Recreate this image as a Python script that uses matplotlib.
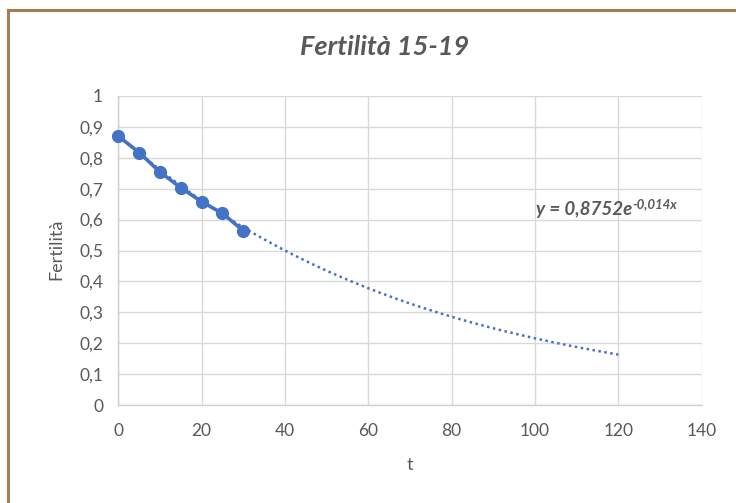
import numpy as np
import matplotlib
matplotlib.use("Agg")
import matplotlib.pyplot as plt
from matplotlib.lines import Line2D

# ---- data ----
t_values = [0, 5, 10, 15, 20, 25, 30]
fertility = [0.870, 0.817, 0.754, 0.703, 0.658, 0.620, 0.564]
trend_a = 0.8752      # coefficient from the displayed trendline equation
trend_b = -0.014      # exponent from the displayed trendline equation
trend_range = (0, 120)
x_ticks = [0, 20, 40, 60, 80, 100, 120, 140]
y_ticks = [0, 0.1, 0.2, 0.3, 0.4, 0.5, 0.6, 0.7, 0.8, 0.9, 1]
title = "Fertilità 15-19"
xlabel = "t"
ylabel = "Fertilità"

plt.rcParams['font.family'] = ['Lato', 'DejaVu Sans']
W, H = 736, 503
fig = plt.figure(figsize=(W / 100, H / 100), dpi=100)
fig.patch.set_facecolor('white')

ax = fig.add_axes([118.3 / W, 1 - 405 / H, (701.7 - 118.3) / W, (405 - 96) / H])
ax.set_xlim(0, 140)
ax.set_ylim(0, 1)

grey = '#595959'
grid = '#d9d9d9'
blue = '#4472C4'

ax.set_xticks(x_ticks)
ax.set_yticks(y_ticks)
ax.set_xticklabels([str(v) for v in x_ticks])
ax.set_yticklabels([('%g' % v).replace('.', ',') for v in y_ticks])
ax.tick_params(length=0, labelsize=12.5, colors=grey)
ax.tick_params(axis='y', pad=11)
ax.tick_params(axis='x', pad=13)
ax.grid(True, color=grid, linewidth=1.0)
ax.set_axisbelow(True)
for s in ['top', 'right']:
    ax.spines[s].set_visible(False)
for s in ['left', 'bottom']:
    ax.spines[s].set_color('#d0d0d0')
    ax.spines[s].set_linewidth(1.0)

# trendline
xt = np.linspace(trend_range[0], trend_range[1], 200)
yt = trend_a * np.exp(trend_b * xt)
ax.plot(xt, yt, color=blue, linewidth=1.8, linestyle=(0, (1, 1.4)), zorder=2)

# data
ax.plot(t_values, fertility, color=blue, linewidth=2.6, marker='o',
        markersize=8.5, zorder=3, clip_on=False)

# labels
fig.text(385 / W, 1 - 47 / H, title, ha='center', va='center', fontsize=19.5,
         fontstyle='italic', fontweight='bold', color=grey)
fig.text(410 / W, 1 - 465 / H, xlabel, ha='center', va='center', fontsize=13, color=grey)
fig.text(56 / W, 1 - 249 / H, ylabel, ha='center', va='center', fontsize=13,
         color=grey, rotation=90)

# equation
eq = fig.text(536 / W, 1 - 209 / H, "y = 0,8752e", ha='left', va='center',
              fontsize=13.5, fontstyle='italic', fontweight='bold', color=grey)
fig.canvas.draw()
bb = eq.get_window_extent(fig.canvas.get_renderer())
fig.text(bb.x1 / W + 0.5 / W, (bb.y1 - 3.5) / H, "-0,014x", ha='left', va='center',
         fontsize=9.5, fontstyle='italic', fontweight='bold', color=grey)

# frame
fc = '#a67c52'
fig.add_artist(Line2D([8 / W, 1.0], [1 - 10 / H, 1 - 10 / H], color=fc,
                      linewidth=2.2, transform=fig.transFigure))
fig.add_artist(Line2D([8 / W, 8 / W], [0, 1 - 10 / H], color=fc,
                      linewidth=2.2, transform=fig.transFigure))

fig.savefig('out.png', dpi=100)
